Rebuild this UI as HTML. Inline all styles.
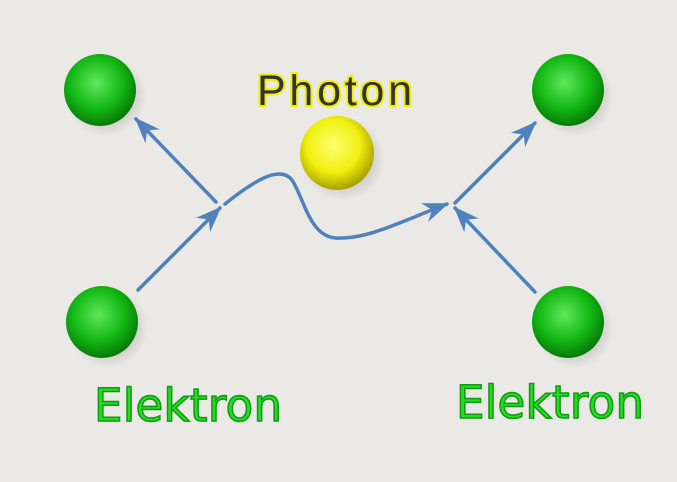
<!DOCTYPE html>
<html><head><style>
html,body{margin:0;padding:0;background:#ebe9e6;}
svg{display:block}
text{font-family:"DejaVu Sans","Liberation Sans",sans-serif;}
</style></head><body>
<svg width="677" height="482" viewBox="0 0 677 482">
<defs>
<radialGradient id="g" cx="0.45" cy="0.4" r="0.6">
<stop offset="0" stop-color="#5fe85f"/><stop offset="0.6" stop-color="#14b814"/><stop offset="1" stop-color="#067a06"/>
</radialGradient>
<radialGradient id="y" cx="0.45" cy="0.4" r="0.6">
<stop offset="0" stop-color="#ffff70"/><stop offset="0.6" stop-color="#f0f010"/><stop offset="1" stop-color="#a8a000"/>
</radialGradient>
<radialGradient id="sh"><stop offset="0" stop-color="#000" stop-opacity="0.35"/><stop offset="1" stop-color="#000" stop-opacity="0"/></radialGradient>
<marker id="a" viewBox="0 0 26 20" refX="24" refY="10" markerWidth="26" markerHeight="20" markerUnits="userSpaceOnUse" orient="auto">
<path d="M0,0 L26,10 L0,20 L8,10 Z" fill="#4f81bd"/>
</marker>
</defs>
<g fill="url(#sh)">
<circle cx="106" cy="96" r="40"/><circle cx="574" cy="96" r="40"/><circle cx="108" cy="328" r="40"/><circle cx="574" cy="328" r="40"/><circle cx="343" cy="159" r="42"/>
</g>
<circle cx="100" cy="90" r="36" fill="url(#g)"/>
<circle cx="568" cy="90" r="36" fill="url(#g)"/>
<circle cx="102" cy="322" r="36" fill="url(#g)"/>
<circle cx="568" cy="322" r="36" fill="url(#g)"/>
<circle cx="337" cy="153" r="37" fill="url(#y)"/>
<g stroke="#4f81bd" stroke-width="3.5" fill="none" stroke-linecap="round">
<line x1="138" y1="290" x2="220" y2="208" marker-end="url(#a)"/>
<line x1="216" y1="202" x2="136" y2="119" marker-end="url(#a)"/>
<path d="M225,204 C255,180 280,165 292,180 C305,200 310,240 340,238 C370,238 400,222 447,204" marker-end="url(#a)"/>
<line x1="535" y1="292" x2="455" y2="208" marker-end="url(#a)"/>
<line x1="455" y1="203" x2="535" y2="123" marker-end="url(#a)"/>
</g>
<text x="257" y="105" font-size="43" fill="#333" stroke="#f2f000" stroke-width="4" paint-order="stroke" style="font-family:'Liberation Sans',sans-serif" textLength="155">Photon</text>
<text x="94" y="421" font-size="45" fill="#22dd22" stroke="#119911" stroke-width="1.5" textLength="188">Elektron</text>
<text x="456" y="418" font-size="45" fill="#22dd22" stroke="#119911" stroke-width="1.5" textLength="188">Elektron</text>
</svg>
</body></html>
